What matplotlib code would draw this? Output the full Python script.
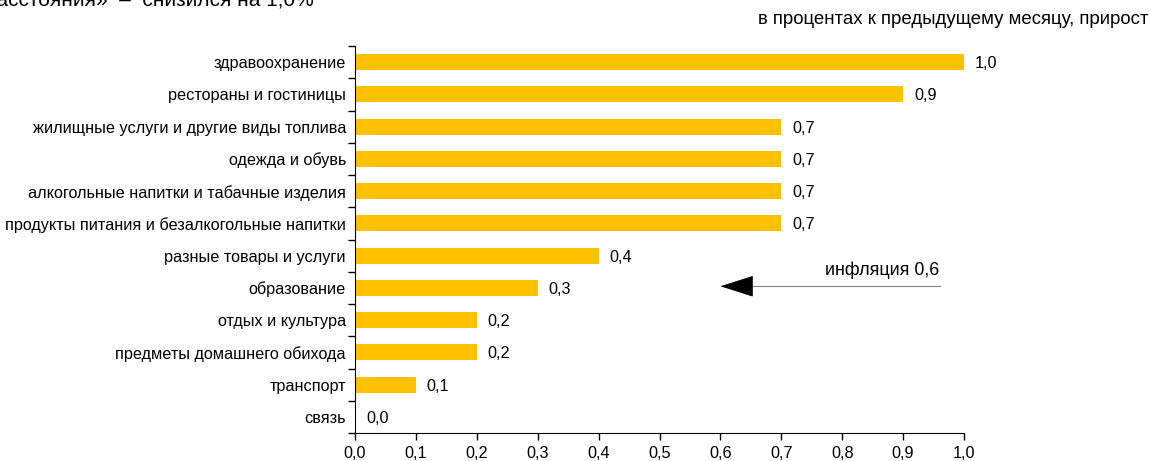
import matplotlib.pyplot as plt
import numpy as np

plt.rcParams['font.family'] = ['Liberation Sans', 'DejaVu Sans']

categories = ['здравоохранение', 'рестораны и гостиницы',
              'жилищные услуги и другие виды топлива', 'одежда и обувь',
              'алкогольные напитки и табачные изделия',
              'продукты питания и безалкогольные напитки',
              'разные товары и услуги', 'образование', 'отдых и культура',
              'предметы домашнего обихода', 'транспорт', 'связь']
values = [1.0, 0.9, 0.7, 0.7, 0.7, 0.7, 0.4, 0.3, 0.2, 0.2, 0.1, 0.0]
inflation = 0.6
xticks = np.arange(0, 1.01, 0.1)

fs = 11.7
fig = plt.figure(figsize=(11.5, 4.61), dpi=100)
ax = fig.add_axes([355/1150, 28/461, 609/1150, 387/461])

y = np.arange(len(categories))
ax.barh(y, values, height=0.5, color='#FFC000')
for yi, v in zip(y, values):
    ax.text(v + 0.018, yi, f'{v:.1f}'.replace('.', ','), va='center_baseline', ha='left', fontsize=fs)

ax.set_ylim(len(categories) - 0.5, -0.5)
ax.set_xlim(0, 1.0)
ax.set_yticks(y)
ax.set_yticklabels(categories, fontsize=fs)
ax.tick_params(axis='y', length=0, pad=6.5)
ax.set_yticks(np.arange(-0.5, len(categories), 1), minor=True)
ax.tick_params(axis='y', which='minor', length=5, width=1)
ax.set_xticks(xticks)
ax.set_xticklabels([f'{t:.1f}'.replace('.', ',') for t in xticks], fontsize=fs)
ax.tick_params(axis='x', length=5, width=1, pad=4)
for s in ['top', 'right']:
    ax.spines[s].set_visible(False)

# inflation arrow: gray shaft, black head
ax.plot([0.64, 0.96], [6.95, 6.95], color='#808080', lw=0.8)
ax.annotate('', xy=(inflation, 6.95), xytext=(0.65, 6.95),
            arrowprops=dict(arrowstyle='-|>,head_length=2.2,head_width=0.7',
                            color='black', lw=0.6, shrinkA=0, shrinkB=0))
ax.text(0.865, 6.45, f'инфляция {inflation:.1f}'.replace('.', ','), ha='center', va='center', fontsize=12.9)

fig.text(1148/1150, 1 - 20/461, 'в процентах к предыдущему месяцу, прирост', ha='right', va='center', fontsize=13.4)

# heading line cut off at the very top, as in the source
fig.text(-15/1150, 1 - 5.5/461, 'расстояния»  –  снизился на 1,0%', ha='left', va='baseline', fontsize=15)

fig.savefig('out.png', dpi=100)
